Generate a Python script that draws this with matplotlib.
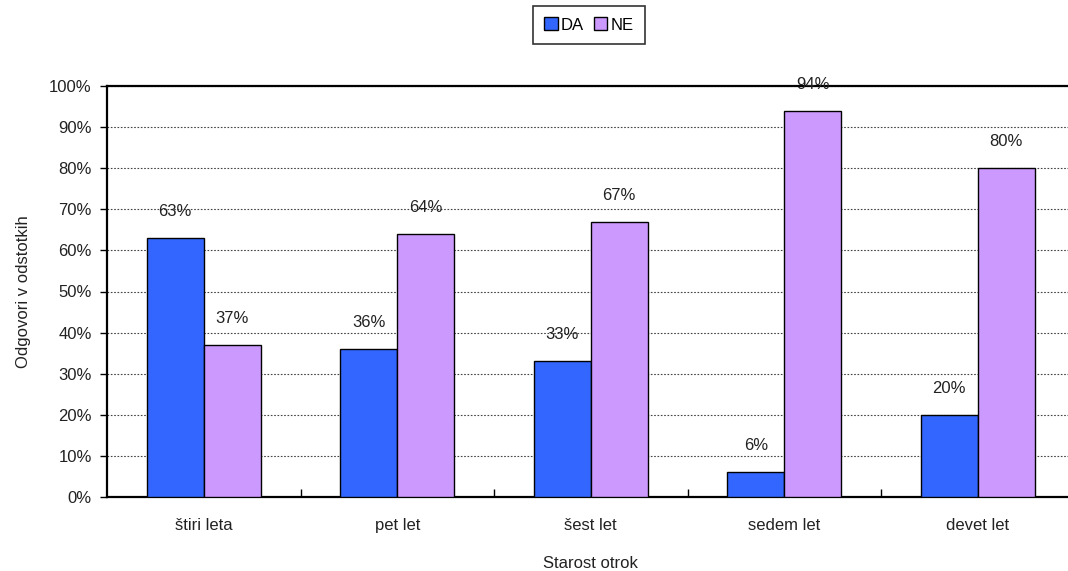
import matplotlib
matplotlib.use("Agg")
import matplotlib.pyplot as plt
import numpy as np
from matplotlib.ticker import FixedLocator, PercentFormatter

categories = ["štiri leta", "pet let", "šest let", "sedem let", "devet let"]
da_values = [63, 36, 33, 6, 20]
ne_values = [37, 64, 67, 94, 80]
series_names = ["DA", "NE"]
yticks = [0, 10, 20, 30, 40, 50, 60, 70, 80, 90, 100]

plt.rcParams['font.family'] = ['Liberation Sans', 'DejaVu Sans']
FS = 12

fig = plt.figure(figsize=(10.68, 5.71), dpi=100)
W, H = 1068, 571
left, right, top, bottom = 107, 1074.5, 86, 497
ax = fig.add_axes([left / W, 1 - bottom / H, (right - left) / W, (bottom - top) / H])

x = np.arange(len(categories))
bw = 0.295
b1 = ax.bar(x - bw / 2, da_values, bw, color="#3366FF", edgecolor="black", linewidth=1.0, label=series_names[0], zorder=3)
b2 = ax.bar(x + bw / 2, ne_values, bw, color="#CC99FF", edgecolor="black", linewidth=1.0, label=series_names[1], zorder=3)

for bars, vals in ((b1, da_values), (b2, ne_values)):
    for rect, v in zip(bars, vals):
        ax.annotate(f"{v}%", (rect.get_x() + rect.get_width() / 2, v),
                    xytext=(0, 19), textcoords="offset points", ha="center", va="center",
                    fontsize=FS, color="#222222")

ax.set_xlim(-0.5, len(categories) - 0.5)
ax.set_ylim(0, 100)
ax.set_yticks(yticks)
ax.yaxis.set_major_formatter(PercentFormatter(decimals=0))
ax.set_xticks(x)
ax.set_xticklabels(categories, fontsize=FS, color="#222222")
ax.tick_params(axis='x', which='major', length=0, pad=15)
ax.xaxis.set_minor_locator(FixedLocator(np.arange(0.5, len(categories) - 0.5, 1)))
ax.tick_params(axis='x', which='minor', direction='in', length=6, width=1)
ax.tick_params(axis='y', which='major', direction='out', length=5, width=1, labelsize=FS, pad=6,
               labelcolor="#222222")

ax.grid(axis='y', linestyle=(0, (1.5, 1.5)), color='#444444', linewidth=0.8, zorder=0)
for s in ['left', 'bottom', 'top']:
    ax.spines[s].set_linewidth(1.6)
ax.spines['right'].set_visible(False)

ax.set_xlabel("Starost otrok", fontsize=FS, labelpad=17, color="#222222")
ax.set_ylabel("Odgovori v odstotkih", fontsize=FS, labelpad=13, color="#222222")

leg = fig.legend(handles=[b1, b2], labels=series_names, loc='center', bbox_to_anchor=(589 / W, 1 - 25 / H),
                 ncol=2, frameon=True, fancybox=False, edgecolor='black', fontsize=FS,
                 handlelength=0.8, handleheight=0.8, handletextpad=0.2, columnspacing=0.6,
                 borderpad=0.7)
leg.get_frame().set_linewidth(1.2)

fig.savefig("out.png", dpi=100)
